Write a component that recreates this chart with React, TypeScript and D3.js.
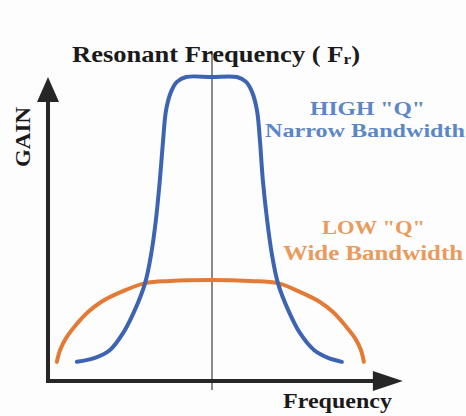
import React from 'react';
import * as d3 from 'd3';

// Frequency (arbitrary units, resonance at 50) vs gain (0..100)
const highQFreq = [8.8, 14.3, 18.9, 22.9, 26.5, 29.6, 31.4, 32.9, 34.1, 35.1, 36.0, 37.5, 39.3, 42.1, 50, 57.6, 60.4, 62.2, 63.7, 64.6, 65.5, 66.8, 68.3, 70.1, 73.2, 76.8, 81.1, 85.4, 89.6];
const highQGain = [6.3, 7.6, 10.2, 15.8, 23.4, 32.2, 41.4, 53.0, 66.1, 79.3, 89.1, 95.1, 98.4, 100, 100, 100, 98.4, 95.1, 89.1, 79.3, 66.1, 53.0, 41.4, 32.2, 23.4, 15.8, 10.2, 7.6, 6.3];

const lowQFreq = [2.7, 3.7, 5.5, 8.5, 12.2, 16.2, 22.3, 29.6, 37.2, 49.4, 61.6, 70.1, 76.8, 82.9, 86.9, 90.5, 93.6, 95.4, 96.3];
const lowQGain = [6.3, 10.2, 14.1, 18.4, 22.7, 26.0, 29.3, 32.2, 32.9, 33.2, 32.9, 32.2, 29.3, 26.0, 22.7, 18.4, 14.1, 10.2, 6.3];

const resonantFreq = 50;
const xAxisEnd = 108.2; // arrow tip, in frequency units
const yAxisEnd = 100;

const W = 466;
const H = 416;

const App: React.FC = () => {
  const x = d3.scaleLinear().domain([0, 100]).range([48, 376]);
  const y = d3.scaleLinear().domain([0, 100]).range([381, 77]);

  const line = d3.line<[number, number]>()
    .curve(d3.curveCatmullRom.alpha(0.5))
    .x(d => x(d[0]))
    .y(d => y(d[1]));

  const highQ = highQFreq.map((f, i) => [f, highQGain[i]] as [number, number]);
  const lowQ = lowQFreq.map((f, i) => [f, lowQGain[i]] as [number, number]);

  const x0 = x(0);
  const y0 = y(0);
  const xTip = x(xAxisEnd);
  const yTip = y(yAxisEnd);
  const serif = "'Liberation Serif', 'Times New Roman', serif";
  const axisColor = '#262626';

  return (
    <svg width={W} height={H} style={{ position: 'absolute', left: 0, top: 0, background: '#fdfdfd' }}>
      {/* resonance marker */}
      <line x1={x(resonantFreq)} x2={x(resonantFreq)} y1={52} y2={390}
        stroke="#8a8a8a" strokeWidth={2} />

      {/* axes */}
      <line x1={x0} x2={x0} y1={y0 + 2} y2={yTip + 22} stroke={axisColor} strokeWidth={4} />
      <path d={`M${x0},${yTip} L${x0 - 11},${yTip + 25} L${x0 + 11},${yTip + 25} Z`} fill={axisColor} />
      <line x1={x0 - 2} x2={xTip - 25} y1={y0} y2={y0} stroke={axisColor} strokeWidth={4} />
      <path d={`M${xTip},${y0} L${xTip - 30},${y0 - 10} L${xTip - 30},${y0 + 10} Z`} fill={axisColor} />

      {/* curves */}
      <path d={line(lowQ) || ''} fill="none" stroke="#e27b36" strokeWidth={4} strokeLinecap="round" />
      <path d={line(highQ) || ''} fill="none" stroke="#3d64b2" strokeWidth={4} strokeLinecap="round" />

      {/* labels */}
      <text x={72} y={62} fontFamily={serif} fontWeight="bold" fontSize={23} fill="#1a1a1a"
        textLength={288} lengthAdjust="spacingAndGlyphs">
        Resonant Frequency ( F<tspan fontSize={15} dy={2}>r</tspan><tspan dy={-2}>)</tspan>
      </text>
      <text transform="translate(30,167) rotate(-90)" fontFamily={serif} fontWeight="bold" fontSize={20}
        fill="#1a1a1a" textLength={60} lengthAdjust="spacingAndGlyphs">GAIN</text>

      <text x={310} y={115} fontFamily={serif} fontWeight="bold" fontSize={19} fill="#5b87c6"
        textLength={115} lengthAdjust="spacingAndGlyphs">HIGH "Q"</text>
      <text x={265} y={137} fontFamily={serif} fontWeight="bold" fontSize={19} fill="#5b87c6"
        textLength={200} lengthAdjust="spacingAndGlyphs">Narrow Bandwidth</text>

      <text x={322} y={234} fontFamily={serif} fontWeight="bold" fontSize={19} fill="#eb9a5c"
        textLength={103} lengthAdjust="spacingAndGlyphs">LOW "Q"</text>
      <text x={283} y={260} fontFamily={serif} fontWeight="bold" fontSize={20} fill="#eb9a5c"
        textLength={180} lengthAdjust="spacingAndGlyphs">Wide Bandwidth</text>

      <text x={283} y={408} fontFamily={serif} fontWeight="bold" fontSize={21} fill="#1a1a1a"
        textLength={109} lengthAdjust="spacingAndGlyphs">Frequency</text>
    </svg>
  );
};

export default App;
